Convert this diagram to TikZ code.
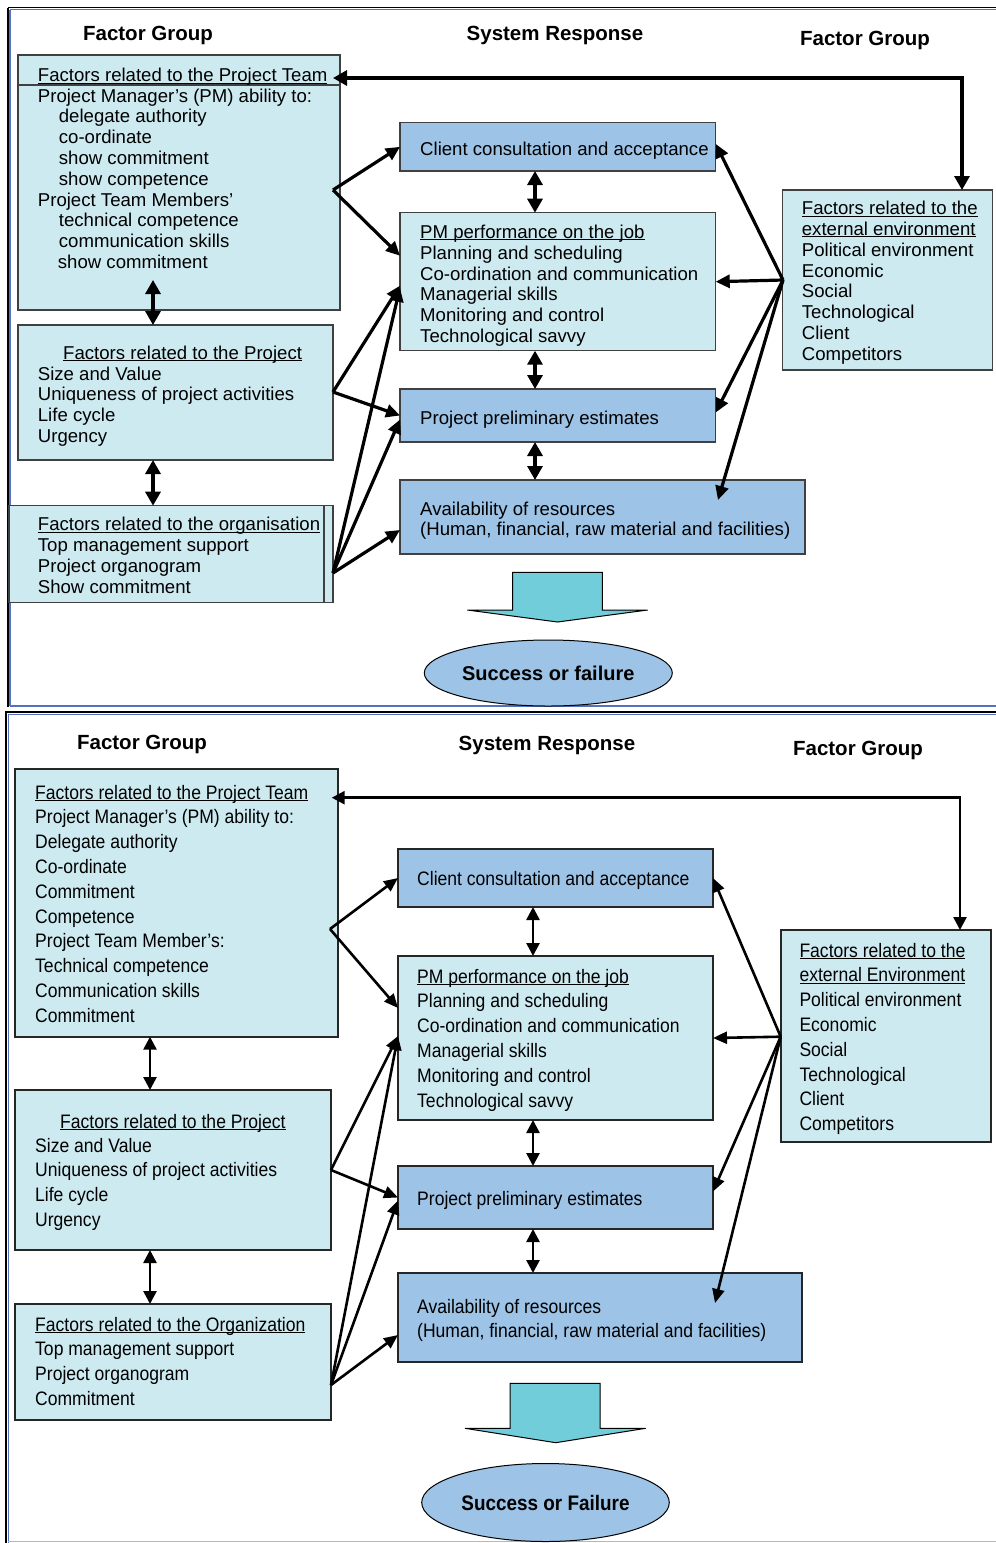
\documentclass[tikz,border=0pt]{standalone}
\usepackage{fontspec}
\setmainfont{Liberation Sans}
\newfontfamily\narrowfont[FakeStretch=0.9]{Liberation Sans}
\usetikzlibrary{arrows.meta,shapes.geometric}
\definecolor{lightbox}{HTML}{CDEAF0}
\definecolor{darkbox}{HTML}{9DC3E6}
\definecolor{tealarr}{HTML}{70CDD9}
\definecolor{edge}{HTML}{404040}
\definecolor{rulebl}{HTML}{5470BE}
\definecolor{rulelt}{HTML}{A8B8E0}
\newsavebox\ulbox
\newcommand\ulx[1]{\sbox\ulbox{#1}\rlap{\rule[-2pt]{\wd\ulbox}{1pt}}\usebox\ulbox}
\newcommand\topfont{\fontsize{18.6}{20.8}\selectfont}
\newcommand\botfont{\narrowfont\fontsize{19.5}{24.8}\selectfont}
\tikzset{
  lbox/.style={draw=edge, line width=1.2pt, fill=lightbox, inner sep=0pt, outer sep=0pt, anchor=north west},
  dbox/.style={draw=edge, line width=1.2pt, fill=darkbox, inner sep=0pt, outer sep=0pt, anchor=north west},
  blbox/.style={lbox, draw=black!85, line width=1.8pt},
  bdbox/.style={dbox, draw=black!85, line width=1.8pt},
  ttxt/.style={anchor=north west, inner sep=0pt, align=left, font=\topfont},
  btxt/.style={anchor=north west, inner sep=0pt, align=left, font=\botfont},
  head/.style={anchor=base, inner sep=0pt, font=\bfseries\fontsize{20.5}{24}\selectfont},
  arT/.style={line width=3.2pt, -{Triangle[length=14pt,width=13pt]}},
  dbT/.style={line width=3.2pt, {Triangle[length=14pt,width=15pt]}-{Triangle[length=14pt,width=15pt]}},
  arB/.style={line width=2.6pt, -{Triangle[length=14pt,width=12pt]}},
  dbB/.style={line width=2.6pt, {Triangle[length=13pt,width=13pt]}-{Triangle[length=13pt,width=13pt]}},
  blockarr/.style={draw=black, line width=1pt, fill=tealarr, line join=miter},
  oval/.style={ellipse, draw=black, line width=1pt, fill=darkbox, inner sep=0pt},
}
\begin{document}
\begin{tikzpicture}[x=1pt,y=-1pt]
\useasboundingbox (0,0) rectangle (996,1543);
% ================= panel frames
\draw[black, line width=1.2pt] (8,7.5) -- (996,7.5);
\draw[rulebl, line width=1.5pt] (10,9.5) -- (996,9.5);
\draw[black, line width=1.2pt] (8,7.5) -- (8,707);
\draw[rulebl, line width=1.2pt] (10,9.5) -- (10,706);
\draw[rulebl, line width=2pt] (10,706) -- (996,706);
\draw[black, line width=2pt] (5,712) -- (996,712);
\draw[rulebl, line width=1.5pt] (8,714.5) -- (996,714.5);
\draw[black, line width=2pt] (6,712) -- (6,1543);
\draw[rulebl, line width=1pt] (8.5,714.5) -- (8.5,1543);
\draw[rulelt, line width=1.5pt] (8,1541.5) -- (996,1541.5);

% ================= TOP PANEL
\node[head] (h1) at (148,40) {Factor Group};
\node[head] (h2) at (555,40) {System Response};
\node[head] (h3) at (865,45) {Factor Group};

\node[lbox, minimum width=322pt, minimum height=255pt] (pt) at (18,55) {};
\draw[draw=edge, line width=1.2pt] ([yshift=-30pt]pt.north west) -- ([yshift=-30pt]pt.north east);
\node[ttxt] (pt-t) at (37.7,67.1) {\strut\ulx{Factors related to the Project Team}};
\node[ttxt] (pt-x) at (37.7,87.4) {\strut Project Manager’s (PM) ability to:\\
\hspace*{21pt}delegate authority\\
\hspace*{21pt}co-ordinate\\
\hspace*{21pt}show commitment\\
\hspace*{21pt}show competence\\
Project Team Members’\\
\hspace*{21pt}technical competence\\
\hspace*{21pt}communication skills\\
\hspace*{20pt}show commitment};

\node[lbox, minimum width=315pt, minimum height=135pt] (pr) at (18,325) {};
\node[ttxt] (pr-t) at (63,344.7) {\strut\ulx{Factors related to the Project}};
\node[ttxt] (pr-x) at (37.7,365.4) {\strut Size and Value\\Uniqueness of project activities\\Life cycle\\Urgency};

\node[lbox, minimum width=324pt, minimum height=97pt] (og) at (9,505.7) {};
\draw[draw=edge, line width=1.2pt] ([xshift=-9pt]og.north east) -- ([xshift=-9pt]og.south east);
\node[ttxt] (og-x) at (37.7,516.1) {\strut\ulx{Factors related to the organisation}\\Top management support\\Project organogram\\Show commitment};

\node[dbox, minimum width=315.7pt, minimum height=48.3pt] (c1) at (400,122.7) {};
\node[ttxt] (c1-x) at (420,140.4) {\strut Client consultation and acceptance};
\node[lbox, minimum width=315.7pt, minimum height=138pt] (c2) at (400,212.7) {};
\node[ttxt] (c2-x) at (420,223.7) {\strut\ulx{PM performance on the job}\\Planning and scheduling\\Co-ordination and communication\\Managerial skills\\Monitoring and control\\Technological savvy};
\node[dbox, minimum width=315.7pt, minimum height=53pt] (c3) at (400,389) {};
\node[ttxt] (c3-x) at (420,409.4) {\strut Project preliminary estimates};
\node[dbox, minimum width=405pt, minimum height=74pt] (c4) at (400,480) {};
\node[ttxt] (c4-x) at (420,500.4) {\strut Availability of resources\\(Human, financial, raw material and facilities)};

\node[lbox, minimum width=210pt, minimum height=180pt] (ex) at (782.3,190) {};
\node[ttxt] (ex-x) at (801.7,199.9) {\strut\ulx{Factors related to the}\\\ulx{external environment}\\Political environment\\Economic\\Social\\Technological\\Client\\Competitors};

\draw[blockarr] (512.7,572.3) -- (602.3,572.3) -- (602.3,610) -- (647.7,610) -- (557.5,622) -- (467.3,610) -- (512.7,610) -- cycle;
\node[oval, minimum width=248pt, minimum height=66pt, font=\bfseries\fontsize{20}{24}\selectfont] (sf1) at (548.3,673) {Success or failure};

% top connectors
\coordinate (ptout) at (333,190);
\coordinate (prout) at (333,392);
\coordinate (ogout) at (333,573);
\coordinate (exout) at (783,280);
\coordinate (ptin) at (333,78);
\draw[arT] (ptout) -- (c1.west);
\draw[arT] (ptout) -- ([yshift=-43pt]c2.north west);
\draw[arT] (prout) -- ([yshift=-73pt]c2.north west);
\draw[arT] (prout) -- (c3.west);
\draw[arT] (ogout) -- ([yshift=-75pt]c2.north west);
\draw[arT] (ogout) -- ([yshift=-4pt]c3.west);
\draw[arT] (ogout) -- ([yshift=-50pt]c4.north west);
\draw[arT] (exout) -- ([yshift=3pt]c1.east);
\draw[arT] (exout) -- (c2.east);
\draw[arT] (exout) -- ([yshift=3pt]c3.east);
\draw[arT] (exout) -- ([xshift=-87pt,yshift=-20pt]c4.north east);
\draw[dbT] ([xshift=-30.3pt]ex.north east) |- (ptin);
\draw[dbT] ([xshift=135pt,yshift=30pt]pt.south west) -- ([xshift=135pt]pr.north west);
\draw[dbT] ([xshift=135pt]pr.south west) -- ([xshift=144pt]og.north west);
\draw[dbT] ([xshift=135pt]c1.south west) -- ([xshift=135pt]c2.north west);
\draw[dbT] ([xshift=135pt]c2.south west) -- ([xshift=135pt]c3.north west);
\draw[dbT] ([xshift=135pt]c3.south west) -- ([xshift=135pt]c4.north west);

% ================= BOTTOM PANEL
\node[head] (h4) at (142,749) {Factor Group};
\node[head] (h5) at (547,750) {System Response};
\node[head] (h6) at (858,755) {Factor Group};

\node[blbox, minimum width=322.7pt, minimum height=267.7pt] (bpt) at (15,769) {};
\node[btxt] (bpt-x) at (35,781.6) {\strut\ulx{Factors related to the Project Team}\\
Project Manager’s (PM) ability to:\\Delegate authority\\Co-ordinate\\Commitment\\Competence\\
Project Team Member’s:\\Technical competence\\Communication skills\\Commitment};

\node[blbox, minimum width=316pt, minimum height=160pt] (bpr) at (15,1090) {};
\node[btxt] (bpr-t) at (60,1110.6) {\strut\ulx{Factors related to the Project}};
\node[btxt] (bpr-x) at (35,1134.6) {\strut Size and Value\\Uniqueness of project activities\\Life cycle\\Urgency};

\node[blbox, minimum width=316pt, minimum height=116pt] (bog) at (15,1304) {};
\node[btxt] (bog-x) at (35,1313.6) {\strut\ulx{Factors related to the Organization}\\Top management support\\Project organogram\\Commitment};

\node[bdbox, minimum width=315pt, minimum height=58pt] (bc1) at (398,849) {};
\node[btxt] (bc1-x) at (417,867.6) {\strut Client consultation and acceptance};
\node[blbox, minimum width=315pt, minimum height=164pt] (bc2) at (398,956) {};
\node[btxt] (bc2-x) at (417,965.6) {\strut\ulx{PM performance on the job}\\Planning and scheduling\\Co-ordination and communication\\Managerial skills\\Monitoring and control\\Technological savvy};
\node[bdbox, minimum width=315pt, minimum height=63pt] (bc3) at (398,1166) {};
\node[btxt] (bc3-x) at (417,1187.6) {\strut Project preliminary estimates};
\node[bdbox, minimum width=404pt, minimum height=89pt] (bc4) at (398,1273) {};
\node[btxt] (bc4-x) at (417,1295.6) {\strut Availability of resources\\(Human, financial, raw material and facilities)};

\node[blbox, minimum width=210pt, minimum height=212pt] (bex) at (780.7,930) {};
\node[btxt] (bex-x) at (799.3,939.6) {\strut\ulx{Factors related to the}\\\ulx{external Environment}\\Political environment\\Economic\\Social\\Technological\\Client\\Competitors};

\draw[blockarr] (510,1383.3) -- (600,1383.3) -- (600,1428.3) -- (645.7,1428.3) -- (555.7,1442.7) -- (465,1428.3) -- (510,1428.3) -- cycle;
\node[oval, minimum width=247.6pt, minimum height=78pt, font=\narrowfont\bfseries\fontsize{21}{24}\selectfont] (sf2) at (545.5,1502.5) {Success or Failure};

% bottom connectors
\coordinate (bptout) at (330,929);
\coordinate (bprout) at (331,1170);
\coordinate (bogout) at (331,1385);
\coordinate (bexout) at (780.7,1036.7);
\coordinate (bptin) at (331.7,797.7);
\draw[arB] (bptout) -- (bc1.west);
\draw[arB] (bptout) -- ([yshift=-52pt]bc2.north west);
\draw[arB] (bprout) -- ([yshift=2pt]bc2.west);
\draw[arB] (bprout) -- (bc3.west);
\draw[arB] (bogout) -- ([yshift=2pt]bc2.west);
\draw[arB] (bogout) -- ([yshift=-3pt]bc3.west);
\draw[arB] (bogout) -- ([yshift=-62pt]bc4.north west);
\draw[arB] (bexout) -- (bc1.east);
\draw[arB] (bexout) -- (bc2.east);
\draw[arB] (bexout) -- ([yshift=6pt]bc3.east);
\draw[arB] (bexout) -- ([xshift=-87pt,yshift=-30pt]bc4.north east);
\draw[dbB] ([xshift=-30.7pt]bex.north east) |- (bptin);
\draw[dbB] ([xshift=135pt]bpt.south west) -- ([xshift=135pt]bpr.north west);
\draw[dbB] ([xshift=135pt]bpr.south west) -- ([xshift=135pt]bog.north west);
\draw[dbB] ([xshift=135pt]bc1.south west) -- ([xshift=135pt]bc2.north west);
\draw[dbB] ([xshift=135pt]bc2.south west) -- ([xshift=135pt]bc3.north west);
\draw[dbB] ([xshift=135pt]bc3.south west) -- ([xshift=135pt]bc4.north west);
\end{tikzpicture}
\end{document}
